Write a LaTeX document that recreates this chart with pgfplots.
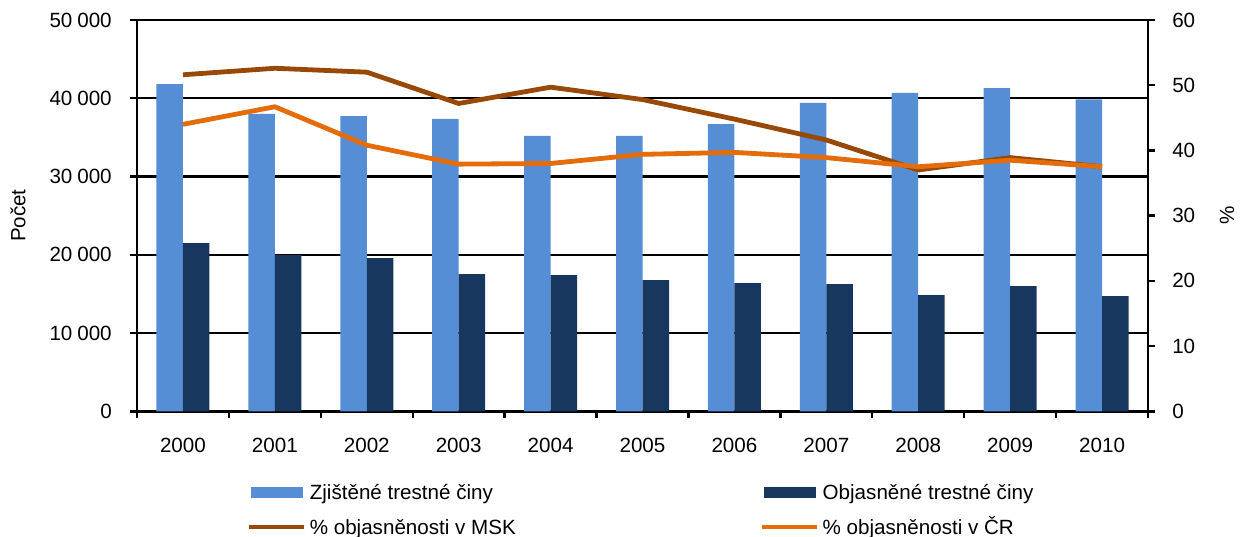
\documentclass[border=0pt]{standalone}
\usepackage{fontspec}
\setmainfont{Liberation Sans}
\usepackage{pgfplots}
\pgfplotsset{compat=1.18}
\definecolor{cA}{HTML}{558ED5}
\definecolor{cB}{HTML}{17375E}
\definecolor{cM}{HTML}{984807}
\definecolor{cC}{HTML}{E46C0A}
\pgfplotsset{
  legA/.style={legend image code/.code={\fill[cA] (1bp,-2.5bp) rectangle (26.5bp,2.5bp); \path (0bp,0bp) (27.5bp,0bp);}},
  legB/.style={legend image code/.code={\fill[cB] (1bp,-2.5bp) rectangle (26.5bp,2.5bp); \path (0bp,0bp) (27.5bp,0bp);}},
  legM/.style={legend image code/.code={\draw[cM, line width=2.4bp] (0bp,0bp) -- (27.5bp,0bp);}},
  legC/.style={legend image code/.code={\draw[cC, line width=2.4bp] (0bp,0bp) -- (27.5bp,0bp);}},
}
\begin{document}
\fontsize{10.3bp}{12.4bp}\selectfont
\begin{tikzpicture}
\begin{axis}[
  scale only axis, width=505.5bp, height=195.65bp,
  xmin=-0.5, xmax=10.5, ymin=0, ymax=50000,
  axis x line*=bottom, axis y line*=left,
  axis line style={black, line width=1.2bp, -},
  xtick={0,1,2,3,4,5,6,7,8,9,10},
  xticklabels={2000,2001,2002,2003,2004,2005,2006,2007,2008,2009,2010},
  major x tick style={draw=none},
  minor xtick={-0.5,0.5,...,10.5},
  ytick={0,10000,20000,30000,40000,50000},
  scaled y ticks=false,
  tick align=outside, major tick length=3.5bp, minor tick length=3.5bp,
  tick style={black, line width=1.2bp},
  xticklabel style={yshift=-6.5bp},
  yticklabel style={xshift=-5.5bp},
  ymajorgrids, grid style={black, line width=1.2bp},
  /pgf/number format/assume math mode=true,
  /pgf/number format/1000 sep={\hspace{0.24em}},
  ylabel={Počet},
  every axis y label/.style={at={(axis description cs:0,0.5)}, xshift=-59.5bp, rotate=90, anchor=center},
  ybar, bar width=13.25bp,
]
\addplot[fill=cA, draw=none, bar shift=-6.625bp] coordinates {
(0,41820) (1,37990) (2,37730) (3,37350) (4,35180) (5,35180) (6,36710) (7,39400) (8,40680) (9,41310) (10,39870)};
\addplot[fill=cB, draw=none, bar shift=6.625bp] coordinates {
(0,21500) (1,19960) (2,19580) (3,17530) (4,17400) (5,16770) (6,16390) (7,16260) (8,14850) (9,16000) (10,14730)};
\end{axis}
\begin{axis}[
  scale only axis, width=505.5bp, height=195.65bp,
  xmin=-0.5, xmax=10.5, ymin=0, ymax=60,
  axis x line=none, axis y line*=right,
  axis line style={black, line width=1.2bp, -},
  ytick={0,10,20,30,40,50,60},
  tick align=outside, major tick length=3.5bp,
  tick style={black, line width=1.2bp},
  yticklabel style={xshift=5bp},
  /pgf/number format/assume math mode=true,
  ylabel={\%},
  every axis y label/.style={at={(axis description cs:1,0.5)}, xshift=39.5bp, rotate=90, anchor=center},
  legend columns=2,
  legend cell align=left,
  legend style={at={(0.1088,-0.1808)}, anchor=north west, draw=none, fill=none,
    inner sep=0pt, outer sep=0pt, row sep=7.5bp,
    nodes={inner sep=0pt, text height=8.5bp, text depth=1.5bp, anchor=west},
    /tikz/every odd column/.append style={column sep=1.5bp},
    /tikz/every even column/.append style={column sep=122bp}},
]
\addlegendimage{legA}
\addlegendentry{Zjištěné trestné činy}
\addlegendimage{legB}
\addlegendentry{Objasněné trestné činy}
\addplot[cM, line width=2.4bp, line join=round, legM] coordinates {
(0,51.6) (1,52.6) (2,52.0) (3,47.2) (4,49.7) (5,47.8) (6,44.8) (7,41.6) (8,37.0) (9,38.9) (10,37.5)};
\addlegendentry{\% objasněnosti v MSK}
\addplot[cC, line width=2.4bp, line join=round, legC] coordinates {
(0,44.0) (1,46.7) (2,40.8) (3,37.9) (4,38.0) (5,39.4) (6,39.7) (7,38.9) (8,37.5) (9,38.5) (10,37.5)};
\addlegendentry{\% objasněnosti v ČR}
\end{axis}
\pgfresetboundingbox
\path[use as bounding box] (-68.5bp,-62.85bp) rectangle (551.5bp,205.65bp);
\end{tikzpicture}
\end{document}
